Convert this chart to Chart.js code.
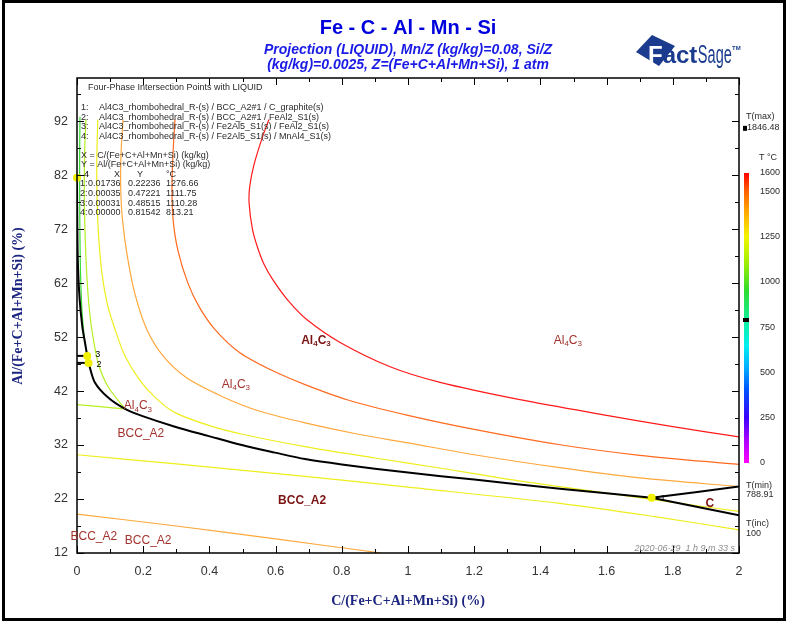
<!DOCTYPE html>
<html>
<head>
<meta charset="utf-8">
<title>Fe - C - Al - Mn - Si</title>
<script src="https://cdn.jsdelivr.net/npm/chart.js@4.4.1/dist/chart.umd.min.js"></script>
<style>
  html, body { margin: 0; padding: 0; background: #ffffff; }
  #box { width: 787px; height: 624px; position: relative; }
  canvas { display: block; }
</style>
</head>
<body>
<div id="box"><canvas id="chart" width="787" height="624"></canvas></div>
<script>
// ---------- axis ticks ----------
const xTickValues = [0, 0.2, 0.4, 0.6, 0.8, 1, 1.2, 1.4, 1.6, 1.8, 2];
const yTickValues = [12, 22, 32, 42, 52, 62, 72, 82, 92];
const tempBarTicks = [1600, 1500, 1250, 1000, 750, 500, 250, 0];

// ---------- four-phase invariant points (mass fractions, deg C) ----------
const invariantNo = [1, 2, 3, 4];
const invariantX = [0.01736, 0.00035, 0.00031, 0.00000];
const invariantY = [0.22236, 0.47221, 0.48515, 0.81542];
const invariantT = [1276.66, 1111.75, 1110.28, 813.21];
const invariantPhases = [
  'Al4C3_rhombohedral_R-(s) / BCC_A2#1 / C_graphite(s)',
  'Al4C3_rhombohedral_R-(s) / BCC_A2#1 / FeAl2_S1(s)',
  'Al4C3_rhombohedral_R-(s) / Fe2Al5_S1(s) / FeAl2_S1(s)',
  'Al4C3_rhombohedral_R-(s) / Fe2Al5_S1(s) / MnAl4_S1(s)'
];
const tMax = 1846.48, tMin = 788.91, tInc = 100;

// ---------- univariant valleys (C %, Al %) ----------
const valley43X = [0.000, 0.001, 0.003, 0.008, 0.016, 0.024, 0.031];
const valley43Y = [81.54, 72.0, 65.0, 59.0, 54.0, 51.0, 48.52];
const valley32X = [0.031, 0.035];
const valley32Y = [48.52, 47.22];
const edge3X = [0.000, 0.031];
const edge3Y = [48.52, 48.52];
const edge2X = [0.000, 0.035];
const edge2Y = [47.22, 47.22];
const valley21X = [0.035, 0.054, 0.094, 0.145, 0.196, 0.296, 0.396, 0.498, 0.598, 0.689, 0.800, 1.000, 1.200, 1.459, 1.600, 1.736];
const valley21Y = [47.22, 43.6, 40.8, 38.7, 37.4, 35.4, 33.7, 32.0, 30.6, 29.4, 28.4, 26.9, 25.6, 23.9, 23.05, 22.24];
const valley1CX = [1.736, 2.000];
const valley1CY = [22.24, 24.3];
const valley1BX = [1.736, 2.000];
const valley1BY = [22.24, 19.0];

// ---------- liquidus isotherms (C %, Al %) ----------
const iso1600X = [0.580, 0.560, 0.535, 0.522, 0.520, 0.530, 0.545, 0.565, 0.592, 0.640, 0.695, 0.795, 0.946, 1.097, 1.338, 1.600, 1.800, 2.000];
const iso1600Y = [92.3, 89.0, 84.0, 80.0, 76.8, 72.0, 68.7, 65.5, 62.6, 58.6, 55.2, 51.0, 46.5, 43.6, 40.4, 37.5, 35.4, 33.5];
const iso1500X = [0.296, 0.290, 0.287, 0.290, 0.305, 0.335, 0.370, 0.417, 0.492, 0.590, 0.689, 0.816, 1.000, 1.200, 1.459, 1.700, 2.000];
const iso1500Y = [92.3, 86.0, 80.0, 74.0, 68.0, 62.0, 57.5, 53.4, 49.1, 45.8, 43.2, 40.4, 37.5, 34.9, 32.05, 30.1, 28.4];
const iso1400X = [0.139, 0.133, 0.132, 0.137, 0.152, 0.175, 0.211, 0.260, 0.330, 0.438, 0.550, 0.689, 0.850, 1.000, 1.200, 1.459, 1.700, 2.000];
const iso1400Y = [92.3, 86.0, 80.0, 74.0, 67.0, 60.0, 53.4, 48.5, 44.5, 41.0, 38.3, 36.1, 34.0, 32.4, 30.2, 27.8, 25.9, 24.3];
const iso1300X = [0.063, 0.060, 0.060, 0.064, 0.075, 0.092, 0.115, 0.145, 0.190, 0.240, 0.296, 0.400, 0.500, 0.689, 0.900, 1.100, 1.300, 1.459, 1.600, 1.736, 1.870, 2.000];
const iso1300Y = [92.3, 86.0, 80.0, 72.0, 64.0, 58.0, 53.4, 48.5, 44.0, 40.6, 38.0, 35.6, 34.0, 31.7, 29.6, 27.7, 25.7, 24.3, 23.1, 21.95, 20.8, 19.7];
const iso1200X = [0.027, 0.023, 0.022, 0.025, 0.030, 0.036, 0.045, 0.064, 0.094, 0.145];
const iso1200Y = [92.3, 86.0, 78.0, 70.0, 63.0, 58.0, 53.3, 47.2, 42.8, 38.7];
const iso1100X = [0.009, 0.008, 0.008, 0.009, 0.011, 0.015, 0.021, 0.028];
const iso1100Y = [92.8, 86.0, 78.0, 70.0, 63.0, 57.0, 52.5, 49.6];
// BCC_A2 primary field
const bcc1200X = [0.145, 0.070, 0.000];
const bcc1200Y = [38.7, 39.1, 39.5];
const bcc1300X = [0.000, 0.300, 0.689, 1.000, 1.459, 1.750, 2.000];
const bcc1300Y = [30.2, 28.5, 26.2, 24.2, 21.2, 18.7, 16.3];
const bcc1400X = [0.000, 0.300, 0.600, 0.920];
const bcc1400Y = [19.2, 17.0, 14.6, 12.0];

// ---------- styling ----------
const SANS = '"Liberation Sans", Arial, Helvetica, sans-serif';
const SANS_N = '"Liberation Sans Narrow", "Liberation Sans", Arial, sans-serif';
const SERIF = '"Liberation Serif", "Times New Roman", serif';
const isoColor = { 1100: '#34dc34', 1200: '#b6f023', 1300: '#eeee1c', 1400: '#ffa83c', 1500: '#ff6a1e', 1600: '#ff1a1a' };

const fieldLabels = [
  { text: 'Al4C3', x: 0.184, y: 39.4, bold: false },
  { text: 'Al4C3', x: 0.480, y: 43.4, bold: false },
  { text: 'Al4C3', x: 0.722, y: 51.5, bold: true },
  { text: 'Al4C3', x: 1.483, y: 51.5, bold: false },
  { text: 'BCC_A2', x: 0.193, y: 34.2, bold: false },
  { text: 'BCC_A2', x: 0.680, y: 21.8, bold: true },
  { text: 'BCC_A2', x: 0.051, y: 15.3, bold: false },
  { text: 'BCC_A2', x: 0.215, y: 14.4, bold: false },
  { text: 'C', x: 1.912, y: 21.4, bold: true }
];
const pointLabelShift = [[9, 1], [8, 2], [8, -1], [7, -3]];

function pts(xs, ys) { return xs.map((x, i) => ({ x: x, y: ys[i] })); }

const datasets = [];
// invariant points drawn on top
datasets.push({
  data: invariantX.map((x, i) => ({ x: x * 100, y: invariantY[i] * 100 })),
  showLine: false, pointRadius: 4, pointHoverRadius: 4,
  pointBackgroundColor: '#f2f200', pointBorderWidth: 0, clip: false
});
[[valley43X, valley43Y], [valley32X, valley32Y], [edge3X, edge3Y], [edge2X, edge2Y],
 [valley21X, valley21Y], [valley1CX, valley1CY], [valley1BX, valley1BY]].forEach(v => {
  datasets.push({ data: pts(v[0], v[1]), showLine: true, borderColor: '#000', borderWidth: 2,
    pointRadius: 0, tension: 0.3, fill: false });
});
[[1600, iso1600X, iso1600Y], [1500, iso1500X, iso1500Y], [1400, iso1400X, iso1400Y],
 [1300, iso1300X, iso1300Y], [1200, iso1200X, iso1200Y], [1100, iso1100X, iso1100Y],
 [1200, bcc1200X, bcc1200Y], [1300, bcc1300X, bcc1300Y], [1400, bcc1400X, bcc1400Y]].forEach(s => {
  datasets.push({ data: pts(s[1], s[2]), showLine: true, borderColor: isoColor[s[0]], borderWidth: 1.2,
    pointRadius: 0, tension: 0.3, fill: false });
});

// temperature colour scale
const barStops = [
  [0, '#ff00ff'], [120, '#b000ff'], [250, '#3a00ff'], [400, '#0050ff'], [530, '#00b0ff'],
  [650, '#00f0f0'], [780, '#10f0a0'], [950, '#30dc30'], [1120, '#a8f000'], [1250, '#f4f400'],
  [1400, '#ffa000'], [1500, '#ff6000'], [1600, '#ff0000']
];

function drawSubscripted(ctx, text, cx, cy, size, bold) {
  // chemical formula with digits as subscripts
  const w = bold ? 'bold ' : '';
  const big = w + size + 'px ' + SANS, small = w + Math.round(size * 0.68) + 'px ' + SANS;
  const parts = [];
  for (const ch of text) {
    const sub = /[0-9]/.test(ch) && text !== 'BCC_A2';
    parts.push({ ch, sub });
  }
  let total = 0;
  parts.forEach(p => { ctx.font = p.sub ? small : big; p.w = ctx.measureText(p.ch).width; total += p.w; });
  let x = cx - total / 2;
  ctx.textAlign = 'left'; ctx.textBaseline = 'alphabetic';
  const base = cy + size * 0.36;
  parts.forEach(p => {
    ctx.font = p.sub ? small : big;
    ctx.fillText(p.ch, x, p.sub ? base + size * 0.18 : base);
    x += p.w;
  });
}

const deco = {
  id: 'deco',
  beforeDraw(chart) {
    const ctx = chart.ctx;
    ctx.save(); ctx.fillStyle = '#ffffff'; ctx.fillRect(0, 0, chart.width, chart.height); ctx.restore();
  },
  afterDraw(chart) {
    const ctx = chart.ctx, ca = chart.chartArea, xs = chart.scales.x, ys = chart.scales.y;
    ctx.save();

    // plot frame
    ctx.strokeStyle = '#000'; ctx.lineWidth = 1.5;
    ctx.strokeRect(ca.left, ca.top, ca.right - ca.left, ca.bottom - ca.top);

    // inward tick marks on all four sides
    ctx.lineWidth = 1;
    ctx.beginPath();
    for (let i = 0; i <= 20; i++) {
      const px = Math.round(xs.getPixelForValue(i / 10)) + 0.5;
      const len = i % 2 === 0 ? 7 : 4;
      ctx.moveTo(px, ca.bottom); ctx.lineTo(px, ca.bottom - len);
      ctx.moveTo(px, ca.top); ctx.lineTo(px, ca.top + len);
    }
    for (let k = 0; k <= 17; k++) {
      const py = Math.round(ys.getPixelForValue(12 + k * 5)) + 0.5;
      const len = k % 2 === 0 ? 7 : 4;
      ctx.moveTo(ca.left, py); ctx.lineTo(ca.left + len, py);
      ctx.moveTo(ca.right, py); ctx.lineTo(ca.right - len, py);
    }
    ctx.stroke();

    // outer border
    ctx.lineWidth = 3;
    ctx.strokeRect(3.5, 1.5, 781, 618);

    // title block
    ctx.fillStyle = '#0000dd'; ctx.textAlign = 'center'; ctx.textBaseline = 'alphabetic';
    ctx.font = 'bold 20px ' + SANS;
    ctx.fillText('Fe - C - Al - Mn - Si', 408, 34);
    ctx.fillStyle = '#1a1ae6';
    ctx.font = 'italic bold 14px ' + SANS;
    ctx.fillText('Projection (LIQUID), Mn/Z (kg/kg)=0.08, Si/Z', 408, 54);
    ctx.fillText('(kg/kg)=0.0025, Z=(Fe+C+Al+Mn+Si), 1 atm', 408, 68.5);

    // FactSage mark
    ctx.fillStyle = '#1b3c8e';
    ctx.beginPath();
    ctx.moveTo(636, 52); ctx.lineTo(652, 35); ctx.lineTo(675, 46); ctx.lineTo(659, 66); ctx.closePath(); ctx.fill();
    ctx.textAlign = 'left';
    ctx.font = 'bold 24px ' + SANS;
    ctx.fillStyle = '#ffffff';
    ctx.fillText('F', 648, 63);
    const fw = ctx.measureText('F').width;
    ctx.fillStyle = '#1b3c8e';
    ctx.fillText('act', 648 + fw, 63);
    const aw = ctx.measureText('act').width;
    ctx.save();
    ctx.font = '26px ' + SANS_N;
    const sw = ctx.measureText('Sage').width;
    ctx.translate(648 + fw + aw + 0.5, 63);
    ctx.scale(34 / sw, 1);
    ctx.fillText('Sage', 0, 0);
    ctx.restore();
    ctx.font = 'bold 6px ' + SANS;
    ctx.fillText('TM', 732, 50);

    // axis titles
    ctx.fillStyle = '#1c2580';
    ctx.font = 'bold 14px ' + SERIF;
    ctx.textAlign = 'center';
    ctx.fillText('C/(Fe+C+Al+Mn+Si) (%)', (ca.left + ca.right) / 2, 605);
    ctx.save();
    ctx.translate(21.5, 306);
    ctx.rotate(-Math.PI / 2);
    ctx.fillText('Al/(Fe+C+Al+Mn+Si) (%)', 0, 0);
    ctx.restore();

    // phase field labels
    fieldLabels.forEach(l => {
      ctx.fillStyle = l.bold ? '#7c1414' : '#a3332d';
      drawSubscripted(ctx, l.text, xs.getPixelForValue(l.x), ys.getPixelForValue(l.y), 12, l.bold);
    });

    // invariant point numbers
    ctx.fillStyle = '#000'; ctx.font = '9px ' + SANS; ctx.textAlign = 'left'; ctx.textBaseline = 'middle';
    invariantNo.forEach((n, i) => {
      const px = xs.getPixelForValue(invariantX[i] * 100), py = ys.getPixelForValue(invariantY[i] * 100);
      ctx.fillText(String(n), px + pointLabelShift[i][0], py + pointLabelShift[i][1]);
    });

    // invariant point table
    ctx.fillStyle = '#2a2a2a'; ctx.font = '9px ' + SANS; ctx.textBaseline = 'middle';
    ctx.fillText('Four-Phase Intersection Points with LIQUID', 88, 88);
    invariantPhases.forEach((p, i) => {
      const y = 107.3 + i * 9.8;
      ctx.fillText(invariantNo[i] + ':', 81, y);
      ctx.fillText(p, 99, y);
    });
    ctx.fillText('X = C/(Fe+C+Al+Mn+Si) (kg/kg)', 81, 155.7);
    ctx.fillText('Y = Al/(Fe+C+Al+Mn+Si) (kg/kg)', 81, 165);
    ctx.fillText('X', 114, 174.3);
    ctx.fillText('Y', 137, 174.3);
    ctx.fillText('\u00B0C', 166, 174.3);
    invariantNo.forEach((n, i) => {
      const y = 184 + i * 9.6;
      ctx.fillText(n + ':', 80, y);
      ctx.fillText(invariantX[i].toFixed(5), 88, y);
      ctx.fillText(invariantY[i].toFixed(5), 128, y);
      ctx.fillText(invariantT[i].toFixed(2), 166, y);
    });

    // timestamp
    ctx.fillStyle = '#8c8c8c'; ctx.font = 'italic 9px ' + SANS; ctx.textAlign = 'right';
    ctx.fillText('2020-06-29  1 h 9 m 33 s', 735, 548);

    // temperature colour bar
    const barTop = 173, barBot = 463, barX = 744, barW = 5, tTop = 1600;
    const tY = t => barBot - (t / tTop) * (barBot - barTop);
    const g = ctx.createLinearGradient(0, barBot, 0, barTop);
    barStops.forEach(s => g.addColorStop(s[0] / tTop, s[1]));
    ctx.fillStyle = g;
    ctx.fillRect(barX, barTop, barW, barBot - barTop);
    ctx.fillStyle = '#000';
    ctx.fillRect(barX - 1, tY(tMin) - 2, barW + 1, 4);
    ctx.fillRect(barX - 1, tY(tMax) - 2.5, 4, 5);
    ctx.fillStyle = '#2a2a2a'; ctx.font = '9px ' + SANS; ctx.textAlign = 'left'; ctx.textBaseline = 'middle';
    tempBarTicks.forEach(t => ctx.fillText(String(t), 760, tY(t)));
    ctx.fillText('T(max)', 746, 117);
    ctx.fillText(tMax.toFixed(2), 747, 128);
    ctx.fillText('T \u00B0C', 759, 158);
    ctx.fillText('T(min)', 746, 486);
    ctx.fillText(tMin.toFixed(2), 746, 494.5);
    ctx.fillText('T(inc)', 746, 524);
    ctx.fillText(String(tInc), 746, 533.5);

    ctx.restore();
  }
};

new Chart(document.getElementById('chart').getContext('2d'), {
  type: 'scatter',
  data: { datasets: datasets },
  options: {
    responsive: false,
    animation: false,
    devicePixelRatio: 1,
    events: [],
    layout: { padding: { top: 78, right: 48, left: 0, bottom: 0 } },
    plugins: { legend: { display: false }, tooltip: { enabled: false }, title: { display: false } },
    scales: {
      x: {
        type: 'linear', min: 0, max: 2,
        grid: { display: false, drawTicks: false },
        border: { display: false },
        ticks: {
          padding: 11, color: '#333', maxRotation: 0, autoSkip: false,
          font: { family: SANS, size: 12.5 },
          callback: v => String(+(+v).toFixed(1))
        },
        afterBuildTicks: s => { s.ticks = xTickValues.map(v => ({ value: v })); },
        afterFit: s => { s.height = 71; }
      },
      y: {
        type: 'linear', min: 12, max: 100,
        grid: { display: false, drawTicks: false },
        border: { display: false },
        ticks: {
          padding: 9, color: '#333', autoSkip: false,
          font: { family: SANS, size: 12.5 },
          callback: v => String(v)
        },
        afterBuildTicks: s => { s.ticks = yTickValues.map(v => ({ value: v })); },
        afterFit: s => { s.width = 77; }
      }
    }
  },
  plugins: [deco]
});
</script>
</body>
</html>
